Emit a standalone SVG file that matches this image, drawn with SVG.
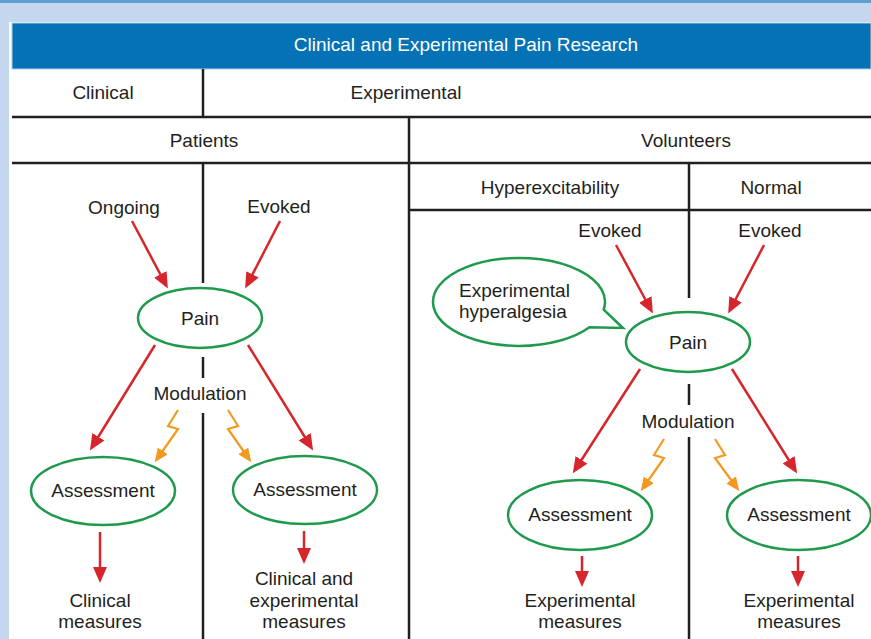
<svg xmlns="http://www.w3.org/2000/svg" width="871" height="639" viewBox="0 0 871 639">
<defs>
<style>
.t{font-family:"Liberation Sans",Arial,sans-serif;font-size:19px;fill:#231f20;text-anchor:middle}
.h{font-family:"Liberation Sans",Arial,sans-serif;font-size:19px;fill:#ffffff;text-anchor:middle}
.grid{stroke:#231f20;stroke-width:2.5;fill:none}
.node{fill:#ffffff;stroke:#1f9a4d;stroke-width:2.5}
.red{stroke:#d7262b;stroke-width:2.5;fill:none;marker-end:url(#ar)}
.org{stroke:#f39a1e;stroke-width:2.2;fill:none;stroke-linejoin:miter;marker-end:url(#ao)}
</style>
<marker id="ar" markerUnits="userSpaceOnUse" markerWidth="16" markerHeight="14" refX="12" refY="7" orient="auto">
<path d="M0,0 L16,7 L0,14 z" fill="#d7262b"/>
</marker>
<marker id="ao" markerUnits="userSpaceOnUse" markerWidth="14" markerHeight="12" refX="10" refY="6" orient="auto">
<path d="M0,0 L14,6 L0,12 z" fill="#f39a1e"/>
</marker>
</defs>
<rect x="0" y="0" width="871" height="639" fill="#c4d7ef"/>
<rect x="0" y="0" width="871" height="3" fill="#5d9fd3"/>
<rect x="9" y="22" width="862" height="617" fill="#ffffff"/>
<rect x="12" y="23" width="859" height="46" fill="#0572b6" stroke="#a9d0ee" stroke-width="1"/>
<text class="h" x="466" y="51">Clinical and Experimental Pain Research</text>

<g id="table">
<line class="grid" x1="12" y1="117" x2="871" y2="117"/>
<line class="grid" x1="12" y1="163" x2="871" y2="163"/>
<line class="grid" x1="409" y1="210" x2="871" y2="210"/>
<line class="grid" x1="203" y1="69" x2="203" y2="117"/>
<line class="grid" x1="409" y1="117" x2="409" y2="639"/>
<line class="grid" x1="203" y1="163" x2="203" y2="283"/>
<line class="grid" x1="203" y1="357" x2="203" y2="378"/>
<line class="grid" x1="203" y1="413" x2="203" y2="639"/>
<line class="grid" x1="689" y1="163" x2="689" y2="298"/>
<line class="grid" x1="689" y1="384" x2="689" y2="405"/>
<line class="grid" x1="689" y1="437" x2="689" y2="639"/>
</g>

<g id="labels">
<text class="t" x="103" y="99">Clinical</text>
<text class="t" x="406" y="99">Experimental</text>
<text class="t" x="204" y="147">Patients</text>
<text class="t" x="686" y="147">Volunteers</text>
<text class="t" x="550" y="194">Hyperexcitability</text>
<text class="t" x="771" y="194">Normal</text>
<text class="t" x="124" y="214">Ongoing</text>
<text class="t" x="279" y="213">Evoked</text>
<text class="t" x="610" y="237">Evoked</text>
<text class="t" x="770" y="237">Evoked</text>
<text class="t" x="200" y="400">Modulation</text>
<text class="t" x="688" y="428">Modulation</text>
<text class="t" x="100" y="607">Clinical</text>
<text class="t" x="100" y="628">measures</text>
<text class="t" x="304" y="585">Clinical and</text>
<text class="t" x="304" y="607">experimental</text>
<text class="t" x="304" y="628">measures</text>
<text class="t" x="580" y="607">Experimental</text>
<text class="t" x="580" y="628">measures</text>
<text class="t" x="799" y="607">Experimental</text>
<text class="t" x="799" y="628">measures</text>
</g>

<g id="connectors">
<line class="red" x1="132" y1="221" x2="166" y2="285"/>
<line class="red" x1="280" y1="221" x2="247" y2="285"/>
<line class="red" x1="155" y1="345" x2="92" y2="447"/>
<line class="red" x1="248" y1="345" x2="311" y2="447"/>
<line class="red" x1="100" y1="532" x2="100" y2="579"/>
<line class="red" x1="304" y1="531" x2="304" y2="560"/>
<line class="red" x1="616" y1="245" x2="651" y2="310"/>
<line class="red" x1="764" y1="245" x2="730" y2="310"/>
<line class="red" x1="640" y1="369" x2="575" y2="470"/>
<line class="red" x1="732" y1="369" x2="795" y2="470"/>
<line class="red" x1="582" y1="556" x2="582" y2="583"/>
<line class="red" x1="798" y1="556" x2="798" y2="583"/>
<polyline class="org" points="178,410 168,426 178,429 157,459"/>
<polyline class="org" points="228,410 238,426 228,429 249,459"/>
<polyline class="org" points="664,439 654,455 664,458 643,488"/>
<polyline class="org" points="715,439 725,455 715,458 737,488"/>
</g>

<g id="pain-clinical">
<ellipse class="node" cx="200" cy="318" rx="62" ry="30"/>
<text class="t" x="200" y="325">Pain</text>
</g>
<g id="assessment-1">
<ellipse class="node" cx="103" cy="491" rx="72" ry="34"/>
<text class="t" x="103" y="497">Assessment</text>
</g>
<g id="assessment-2">
<ellipse class="node" cx="305" cy="490" rx="72" ry="34"/>
<text class="t" x="305" y="496">Assessment</text>
</g>
<g id="bubble">
<path class="node" d="M603.7,309.6 A86 44 0 1 0 589.4,327.2 L623,328 Z"/>
<text class="t" style="text-anchor:start" x="459" y="297">Experimental</text>
<text class="t" style="text-anchor:start" x="459" y="318">hyperalgesia</text>
</g>
<g id="pain-experimental">
<ellipse class="node" cx="688" cy="342" rx="62" ry="30"/>
<text class="t" x="688" y="349">Pain</text>
</g>
<g id="assessment-3">
<ellipse class="node" cx="580" cy="515" rx="72" ry="35"/>
<text class="t" x="580" y="521">Assessment</text>
</g>
<g id="assessment-4">
<ellipse class="node" cx="799" cy="515" rx="72" ry="35"/>
<text class="t" x="799" y="521">Assessment</text>
</g>
</svg>
